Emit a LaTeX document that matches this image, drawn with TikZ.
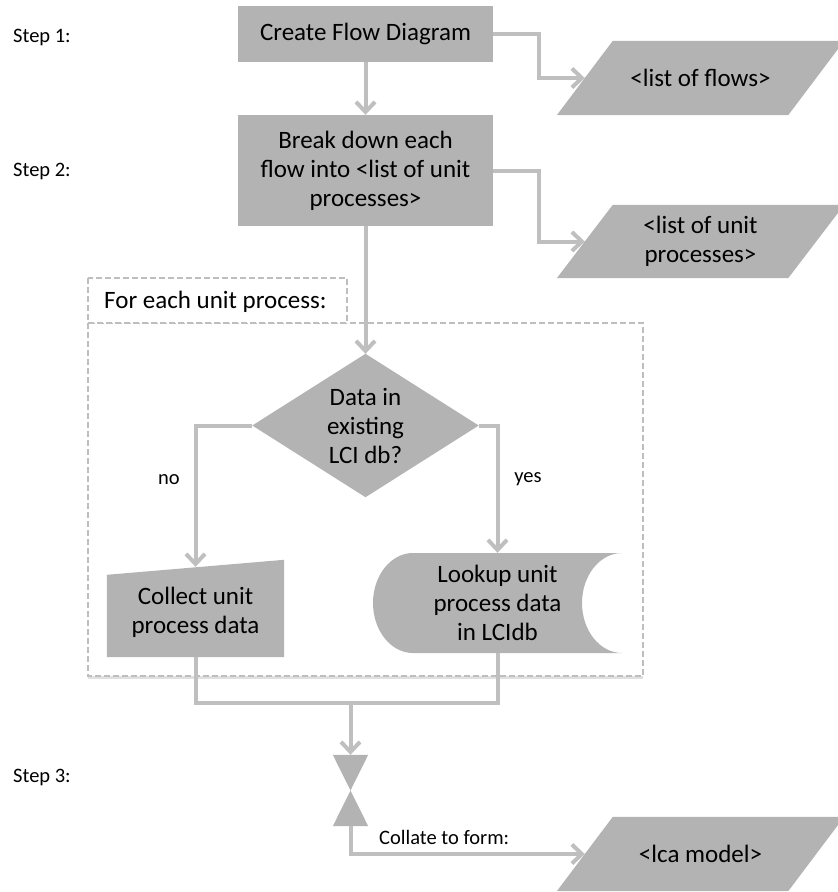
\documentclass[tikz,border=0pt]{standalone}
\usepackage{fontspec}
\setmainfont{Carlito}
\usetikzlibrary{arrows.meta,calc,shadows}
\definecolor{shapegray}{RGB}{179,179,179}
\definecolor{linegray}{RGB}{191,191,191}
\definecolor{framegray}{RGB}{190,190,190}
\pgfdeclarelayer{framelayer}
\pgfdeclarelayer{shapelayer}
\pgfsetlayers{framelayer,shapelayer,main}

\begin{document}
\begin{tikzpicture}[x=1pt,y=-1pt,
  boxtext/.style={font=\fontsize{25}{29}\selectfont, align=center, inner sep=0pt, text=black},
  procbox/.style={boxtext, fill=shapegray, minimum width=255pt},
  smalltext/.style={font=\fontsize{20.5}{24}\selectfont, inner sep=0pt, text=black},
  conn/.style={draw=linegray, line width=4pt},
  flow/.style={conn, -{Straight Barb[length=10pt,width=19pt]}},
  frameline/.style={draw=framegray, line width=1.3pt, dash pattern=on 6pt off 3pt},
]
\useasboundingbox (0,0) rectangle (838,892);

% step captions
\node[smalltext, anchor=west] (s1) at (13,37)  {Step 1:};
\node[smalltext, anchor=west] (s2) at (13,171) {Step 2:};
\node[smalltext, anchor=west] (s3) at (13,777) {Step 3:};

% loop frame with its caption tab
\begin{pgfonlayer}{framelayer}
  \draw[frameline, fill=white,
        drop shadow={shadow xshift=-0.5pt, shadow yshift=-2.5pt, fill=black, opacity=.12}]
        (88,323) rectangle (643,676);
  \draw[frameline, fill=white] (88,278) rectangle (347,323);
\end{pgfonlayer}
\node[boxtext, anchor=west] (foreach) at (104,302) {For each unit process:};

% process boxes
\node[procbox, minimum height=56pt]  (create) at (365.5,34)    {Create Flow Diagram};
\node[procbox, minimum height=111pt] (break)  at (365.5,170.5) {Break down each\\flow into <list of unit\\processes>};

% data (parallelogram) nodes: the node is the mid-line box of the shape
\node[boxtext, minimum width=231pt, minimum height=74pt] (flows) at (700.5,78)    {<list of flows>};
\node[boxtext, minimum width=231pt, minimum height=73pt] (units) at (700.5,241.5) {<list of unit\\processes>};
\node[boxtext, minimum width=231pt, minimum height=74pt] (lca)   at (700.5,854)   {<lca model>};

% decision
\node[boxtext, minimum width=226pt, minimum height=143pt] (dec) at (365.5,425.5) {Data in\\existing\\LCI db?};

% manual input and stored data
\node[boxtext, minimum width=177pt, minimum height=90pt]  (collect) at (195.5,612) {Collect unit\\process data};
\node[boxtext, minimum width=249pt, minimum height=100pt] (lookup)  at (497.5,603) {Lookup unit\\process data\\in LCIdb};

% merge symbol
\node[minimum width=35pt, minimum height=71pt, inner sep=0pt] (merge) at (350.5,790.5) {};

% shape fills
\begin{pgfonlayer}{shapelayer}
  \foreach \n in {flows,units,lca}{
    \fill[shapegray] ([xshift=28pt]\n.north west) -- ([xshift=28pt]\n.north east)
      -- ([xshift=-28pt]\n.south east) -- ([xshift=-28pt]\n.south west) -- cycle;
  }
  \fill[shapegray] (dec.north) -- (dec.east) -- (dec.south) -- (dec.west) -- cycle;
  \fill[shapegray] (collect.south west) -- ([yshift=-8pt]collect.north west)
    -- ([yshift=7pt]collect.north east) -- (collect.south east) -- cycle;
  \begin{scope}[shift={(lookup.center)}]
    \fill[shapegray] (-84.5,-50) -- (124.5,-50)
      .. controls (102.4,-50) and (84.5,-27.6) .. (84.5,0)
      .. controls (84.5,27.6) and (102.4,50) .. (124.5,50)
      -- (-84.5,50)
      .. controls (-106.6,50) and (-124.5,27.6) .. (-124.5,0)
      .. controls (-124.5,-27.6) and (-106.6,-50) .. (-84.5,-50) -- cycle;
  \end{scope}
  \fill[shapegray] (merge.north west) -- (merge.north east) -- (merge.center) -- cycle;
  \fill[shapegray] (merge.south west) -- (merge.south east) -- (merge.center) -- cycle;
\end{pgfonlayer}

% connectors
\draw[flow] (create.south) -- (break.north);
\draw[flow] (create.east) -| ($(create.east)!.5!(flows.west)$) |- (flows.west);
\draw[flow] (break.east) -| ($(break.east)!.5!(units.west)$) |- (units.west);
\draw[flow] (break.south) -- (dec.north);
\draw[flow] (dec.west) -| (collect.north);
\draw[flow] (dec.east) -| (lookup.north);
\coordinate (join) at (350.5,703);
\draw[conn] (collect.south) |- (join);
\draw[conn] (lookup.south) |- (join);
\draw[flow] (join) -- (merge.north);
\draw[flow] (merge.south) |- (lca.west);

% branch labels
\node[smalltext] (no)  at (169,480) {no};
\node[smalltext] (yes) at (528,479) {yes};
\node[smalltext, anchor=west] (collate) at (379,837) {Collate to form:};
\end{tikzpicture}
\end{document}
